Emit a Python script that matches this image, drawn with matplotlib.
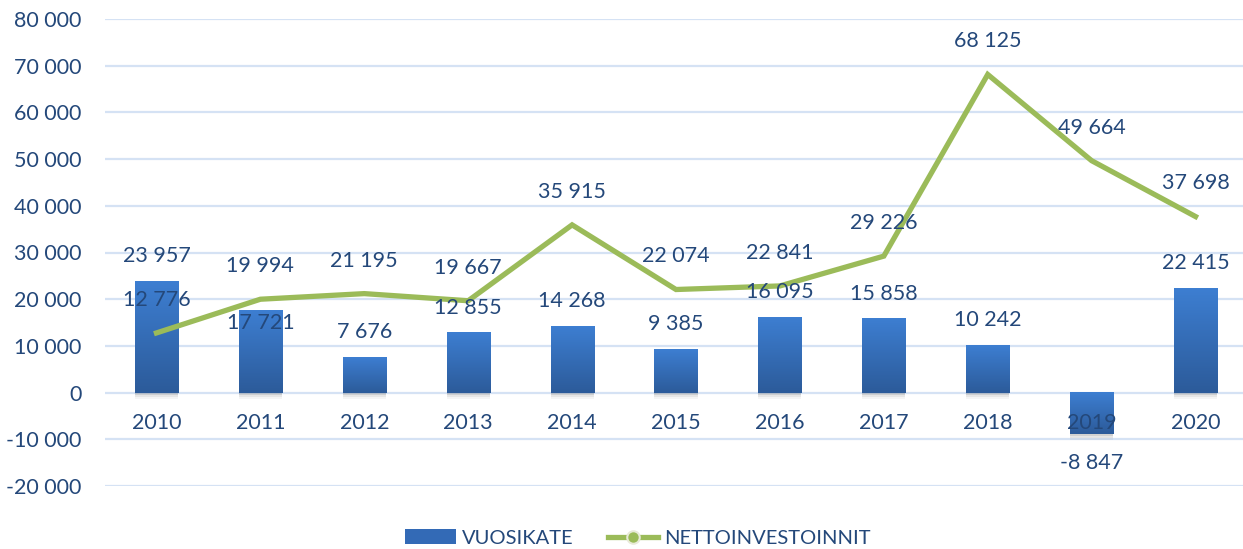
import numpy as np
import matplotlib
matplotlib.use('Agg')
import matplotlib.pyplot as plt
from matplotlib.patches import Rectangle
from matplotlib.lines import Line2D
from matplotlib.ticker import FuncFormatter, MultipleLocator

years = ['2010', '2011', '2012', '2013', '2014', '2015', '2016', '2017', '2018', '2019', '2020']
vuosikate = [23957, 17721, 7676, 12855, 14268, 9385, 16095, 15858, 10242, -8847, 22415]
netto = [12776, 19994, 21195, 19667, 35915, 22074, 22841, 29226, 68125, 49664, 37698]

TEXT = '#24487A'
GRID = '#D5E2F4'
GREEN = '#9BBB59'
plt.rcParams['font.family'] = ['Lato', 'DejaVu Sans']


def fmt(v):
    return f'{int(v):,}'.replace(',', ' ')


W, H = 1243, 549
fig = plt.figure(figsize=(W / 100, H / 100), dpi=100)
ax = fig.add_axes([104.5 / W, 1 - 486 / H, 1143 / W, 467 / H])

x = np.arange(len(years))
bw = 0.414

# gradient bars with a soft shadow
grad = np.linspace(0, 1, 64).reshape(-1, 1)
cmap = matplotlib.colors.LinearSegmentedColormap.from_list('bar', ['#3D7ED1', '#2C5B9A'])
for xi, v in zip(x, vuosikate):
    lo, hi = min(0, v), max(0, v)
    for k, a in [(6, 0.05), (4, 0.08), (2, 0.12)]:
        sh = Rectangle((xi - bw / 2, lo), bw, hi - lo, facecolor='#404040', alpha=a,
                       edgecolor='none', zorder=1,
                       transform=ax.transData + matplotlib.transforms.Affine2D().translate(0, -k))
        ax.add_patch(sh)
    ax.imshow(grad, cmap=cmap, aspect='auto', origin='upper',
              extent=(xi - bw / 2, xi + bw / 2, lo, hi), zorder=2)

ax.plot(x, netto, color=GREEN, lw=3.8, solid_joinstyle='miter', zorder=3)

ax.set_xlim(-0.5, 10.5)
ax.set_ylim(-20000, 80000)
ax.yaxis.set_major_locator(MultipleLocator(10000))
ax.yaxis.set_major_formatter(FuncFormatter(lambda v, p: fmt(v)))
ax.set_xticks([])
ax.tick_params(axis='y', length=0, pad=16.5, labelsize=15.5, labelcolor=TEXT)
ax.grid(axis='y', color=GRID, lw=1.6)
ax.set_axisbelow(True)
for s in ax.spines.values():
    s.set_visible(False)

# year labels beside the zero line
for xi, yr in zip(x, years):
    ax.annotate(yr, (xi, 0), xytext=(0, -21.8), textcoords='offset points',
                ha='center', va='center', fontsize=15.5, color=TEXT, zorder=5)

# data labels
bar_off = [18, -9.4, 18, 18, 18, 18, 18, 18, 18, -21, 18]
for xi, v, o in zip(x, vuosikate, bar_off):
    ax.annotate(fmt(v), (xi, v), xytext=(0, o), textcoords='offset points',
                ha='center', va='center', fontsize=15.5, color=TEXT, zorder=5)
for xi, v in zip(x, netto):
    ax.annotate(fmt(v), (xi, v), xytext=(0, 23.8), textcoords='offset points',
                ha='center', va='center', fontsize=15.5, color=TEXT, zorder=5)

handles = [Rectangle((0, 0), 1, 1, facecolor='#336AB6', edgecolor='none'),
           Line2D([0], [0], color=GREEN, lw=3.8, marker='o', markersize=9,
                  markerfacecolor=GREEN, markeredgecolor='#E8EAD8', markeredgewidth=1.5)]
fig.legend(handles, ['VUOSIKATE', 'NETTOINVESTOINNIT'], loc='center',
           bbox_to_anchor=(638 / W, 1 - 538 / H), ncol=2, frameon=False,
           fontsize=14.5, labelcolor=TEXT, handlelength=2.5, handleheight=0.75,
           handletextpad=0.3, columnspacing=1.7)

fig.savefig('out.png', dpi=100)
